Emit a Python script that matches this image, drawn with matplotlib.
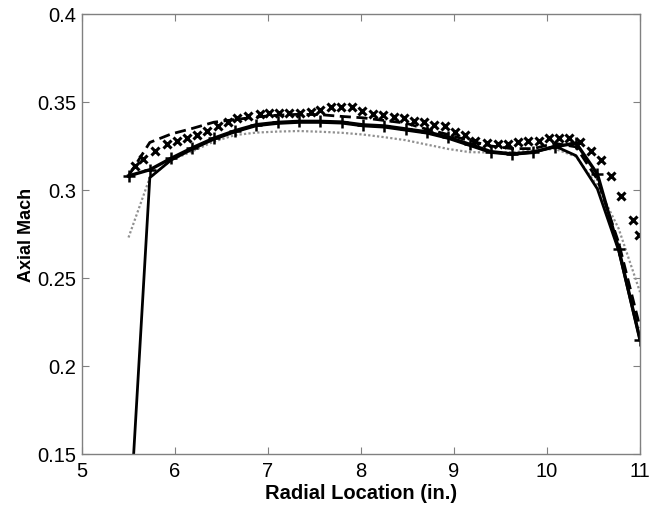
# Axial Mach number vs radial location, several traverses/models overlaid.
import matplotlib
matplotlib.use("Agg")
import matplotlib.pyplot as plt
import numpy as np

# common radial stations for the line series (in.)
r_line = [5.5, 5.729, 5.958, 6.188, 6.417, 6.646, 6.875, 7.104, 7.333, 7.562,
          7.792, 8.021, 8.25, 8.479, 8.708, 8.938, 9.167, 9.396, 9.625, 9.854,
          10.083, 10.312, 10.542, 10.771, 11.0]

mach_plus = [0.308, 0.3115, 0.318, 0.324, 0.3294, 0.3337, 0.3371, 0.3384, 0.339, 0.339,
             0.3386, 0.337, 0.3364, 0.3347, 0.333, 0.330, 0.326, 0.3218, 0.3205, 0.3216,
             0.3245, 0.3267, 0.309, 0.2665, 0.215]

mach_solid = [0.10, 0.307, 0.317, 0.3232, 0.3288, 0.333, 0.3365, 0.3378, 0.3384, 0.3384,
              0.338, 0.3364, 0.3357, 0.334, 0.3323, 0.3293, 0.3253, 0.3213, 0.3202, 0.3212,
              0.325, 0.3195, 0.3006, 0.2655, 0.215]

mach_dash = [0.308, 0.327, 0.3318, 0.335, 0.3385, 0.340, 0.3415, 0.3425, 0.343, 0.3428,
             0.3418, 0.341, 0.3395, 0.338, 0.3345, 0.3315, 0.328, 0.325, 0.3235, 0.3235,
             0.3265, 0.3245, 0.306, 0.27, 0.222]

mach_dot = [0.273, 0.307, 0.317, 0.322, 0.3275, 0.3312, 0.3326, 0.3332, 0.3335, 0.3331,
            0.3325, 0.3315, 0.3300, 0.3283, 0.3258, 0.3233, 0.3215, 0.3213, 0.3215, 0.3224,
            0.3234, 0.319, 0.3025, 0.278, 0.242]

# measured points (x markers)
r_meas = [5.57, 5.66, 5.79, 5.91, 6.02, 6.13, 6.24, 6.34, 6.46, 6.57,
          6.67, 6.79, 6.91, 7.01, 7.12, 7.23, 7.34, 7.46, 7.56, 7.68,
          7.79, 7.90, 8.01, 8.13, 8.24, 8.35, 8.46, 8.57, 8.68, 8.79,
          8.90, 9.01, 9.12, 9.23, 9.36, 9.47, 9.58, 9.69, 9.80, 9.91,
          10.02, 10.13, 10.24, 10.36, 10.47, 10.58, 10.69, 10.80, 10.92, 10.99]
mach_meas = [0.3135, 0.3176, 0.3223, 0.3261, 0.328, 0.3294, 0.3314, 0.3337, 0.3362, 0.3384,
             0.3407, 0.3422, 0.3432, 0.3438, 0.3438, 0.3438, 0.3438, 0.3445, 0.3456, 0.347,
             0.347, 0.347, 0.345, 0.3432, 0.3428, 0.3413, 0.3407, 0.3394, 0.3384, 0.3371,
             0.3365, 0.3328, 0.331, 0.328, 0.3267, 0.3261, 0.3261, 0.3271, 0.3277, 0.328,
             0.3295, 0.3294, 0.3294, 0.3271, 0.3223, 0.317, 0.3081, 0.2967, 0.2831, 0.2744]

plt.rcParams["font.family"] = ["Liberation Sans", "DejaVu Sans"]

fig = plt.figure(figsize=(6.63, 5.06), dpi=100)
ax = fig.add_axes([0.1237, 0.1008, 0.8416, 0.8696])

ax.plot(r_line, mach_dot, color="#909090", linestyle=(0, (1, 1)), linewidth=1.6)
ax.plot(r_line, mach_solid, color="black", linewidth=2.0)
ax.plot(r_line, mach_dash, color="black", linestyle=(0, (4, 2)), linewidth=2.0)
ax.plot(r_line, mach_plus, color="black", linewidth=2.4, marker="+",
        markersize=8, markeredgewidth=1.8)
ax.plot(r_meas, mach_meas, linestyle="none", color="black", marker="x",
        markersize=6, markeredgewidth=2.2)

ax.set_xlim(5, 11)
ax.set_ylim(0.15, 0.4)
ax.set_xticks([5, 6, 7, 8, 9, 10, 11])
ax.set_yticks([0.15, 0.2, 0.25, 0.3, 0.35, 0.4])
ax.set_yticklabels(["0.15", "0.2", "0.25", "0.3", "0.35", "0.4"])

for s in ax.spines.values():
    s.set_color("#808080")
    s.set_linewidth(1.0)
ax.tick_params(direction="in", length=5, width=0.8, color="#808080",
               top=True, right=True, labelsize=14.5, labelcolor="black")
ax.tick_params(axis="x", pad=5)
ax.tick_params(axis="y", pad=4)

ax.set_xlabel("Radial Location (in.)", fontsize=14.5, fontweight="bold", labelpad=2)
ax.set_ylabel("Axial Mach", fontsize=13, fontweight="bold", labelpad=2)

fig.savefig("out.png", dpi=100)
